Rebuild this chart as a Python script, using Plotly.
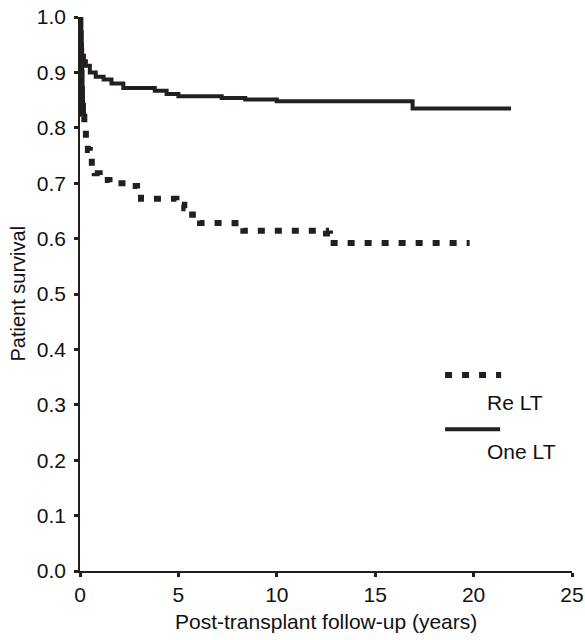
import plotly.graph_objects as go

# Kaplan-Meier style step data
re_lt_years = [0, 0.02, 0.04, 0.06, 0.08, 0.10, 0.15, 0.22, 0.30, 0.40, 0.50, 0.60, 0.75, 1.0,
               1.5, 2.5, 2.9, 3.1, 4.9, 5.1, 5.3, 5.5, 5.7, 5.9, 6.1, 7.9, 8.3, 12.5, 12.7, 19.8]
re_lt_surv = [1.0, 0.97, 0.94, 0.90, 0.87, 0.84, 0.82, 0.80, 0.775, 0.76, 0.745, 0.73, 0.718, 0.706,
              0.700, 0.695, 0.685, 0.672, 0.668, 0.661, 0.655, 0.649, 0.643, 0.637, 0.628, 0.622,
              0.614, 0.609, 0.592, 0.592]

one_lt_years = [0, 0.02, 0.05, 0.10, 0.20, 0.30, 0.50, 0.80, 1.2, 1.6, 2.2, 3.8, 4.4, 5.0, 7.2,
                8.4, 10.0, 16.9, 21.9]
one_lt_surv = [1.0, 0.97, 0.95, 0.93, 0.92, 0.912, 0.900, 0.892, 0.887, 0.880, 0.872, 0.867,
               0.861, 0.857, 0.854, 0.851, 0.848, 0.835, 0.835]

x_ticks = [0, 5, 10, 15, 20, 25]
y_ticks = [0.0, 0.1, 0.2, 0.3, 0.4, 0.5, 0.6, 0.7, 0.8, 0.9, 1.0]

INK = "#231f20"
TXT = "#111111"
FONT = "Liberation Sans, Arial, sans-serif"
DOT = "7px,10px"
EARLY = 7  # the dense early drop of Re LT looks solid in the original

fig = go.Figure()
fig.add_trace(go.Scatter(x=one_lt_years, y=one_lt_surv, mode="lines", name="One LT",
                         line=dict(color=INK, width=4, shape="hv")))
fig.add_trace(go.Scatter(x=re_lt_years[:EARLY], y=re_lt_surv[:EARLY], mode="lines",
                         name="Re LT", showlegend=False,
                         line=dict(color=INK, width=6, shape="hv")))
fig.add_trace(go.Scatter(x=re_lt_years[EARLY - 1:], y=re_lt_surv[EARLY - 1:], mode="lines",
                         name="Re LT", line=dict(color=INK, width=6, shape="hv", dash=DOT)))

# custom legend (line sample above label)
fig.add_shape(type="line", xref="paper", yref="paper", x0=0.742, x1=0.856, y0=0.354, y1=0.354,
              line=dict(color=INK, width=6, dash=DOT))
fig.add_shape(type="line", xref="paper", yref="paper", x0=0.742, x1=0.854, y0=0.256, y1=0.256,
              line=dict(color=INK, width=4))
fig.add_annotation(text="Re LT", xref="paper", yref="paper", x=0.823, y=0.305, xanchor="left",
                   yanchor="middle", showarrow=False, font=dict(family=FONT, size=21, color=TXT))
fig.add_annotation(text="One LT", xref="paper", yref="paper", x=0.823, y=0.215, xanchor="left",
                   yanchor="middle", showarrow=False, font=dict(family=FONT, size=21, color=TXT))

# axis titles
fig.add_annotation(text="Post-transplant follow-up (years)", xref="paper", yref="paper",
                   x=0.5, y=-0.092, xanchor="center", yanchor="middle", showarrow=False,
                   font=dict(family=FONT, size=21, color=TXT))
fig.add_annotation(text="Patient survival", xref="paper", yref="paper", textangle=-90,
                   x=-0.127, y=0.5, xanchor="center", yanchor="middle", showarrow=False,
                   font=dict(family=FONT, size=20, color=TXT))

fig.update_layout(
    width=585, height=640,
    margin=dict(l=80, r=13, t=17, b=69, autoexpand=False),
    plot_bgcolor="white", paper_bgcolor="white",
    showlegend=False,
    font=dict(family=FONT, size=21, color=TXT),
)
fig.update_xaxes(range=[0, 25], tickvals=x_ticks, ticktext=[str(v) for v in x_ticks],
                 showgrid=False, zeroline=False, showline=True, linecolor=INK, linewidth=2,
                 ticks="outside", ticklen=4, tickwidth=3, tickcolor=INK,
                 tickfont=dict(family=FONT, size=21, color=TXT))
fig.update_yaxes(range=[0, 1.0], tickvals=y_ticks, ticktext=[f"{v:.1f}" for v in y_ticks],
                 showgrid=False, zeroline=False, showline=True, linecolor=INK, linewidth=1.5,
                 ticks="outside", ticklen=4, tickwidth=3, tickcolor=INK, ticklabelstandoff=4,
                 tickfont=dict(family=FONT, size=21, color=TXT))

# remove the browser's default 8px body margin so the figure fills the window exactly
fig.write_html("out.html",
               config={"displayModeBar": False},
               post_script="document.body.style.margin='0';document.body.style.overflow='hidden';")
